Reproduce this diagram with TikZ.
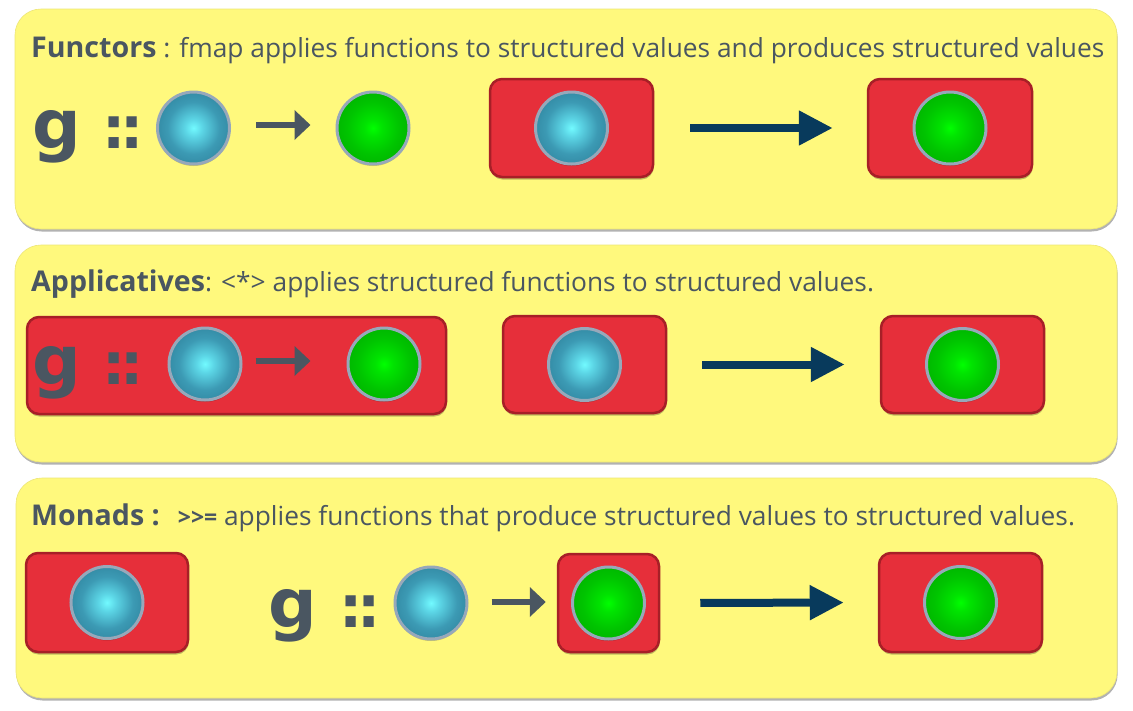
\documentclass[tikz,border=0pt]{standalone}
\usepackage{fontspec}
\setmainfont{Open Sans}
\newfontfamily\gfont{DejaVu Sans}
\usetikzlibrary{arrows.meta,shadows}
\definecolor{panelfill}{HTML}{FFF97D}
\definecolor{paneledge}{HTML}{EDE676}
\definecolor{txt}{HTML}{4A5661}
\definecolor{boxfill}{HTML}{E62F3A}
\definecolor{boxedge}{HTML}{A71F27}
\definecolor{navy}{HTML}{083A5C}
\definecolor{ballrim}{HTML}{97A8BA}
\definecolor{bluein}{HTML}{72FAFF}
\definecolor{bluelight}{HTML}{5CD6E6}
\definecolor{bluemid}{HTML}{3C9AB4}
\definecolor{blueout}{HTML}{2A7A94}
\definecolor{greenin}{HTML}{00FF00}
\definecolor{greenlight}{HTML}{00E400}
\definecolor{greenmid}{HTML}{00C400}
\definecolor{greenout}{HTML}{00A800}
\pgfdeclareradialshading{ballblue}{\pgfpoint{0bp}{0bp}}{color(0bp)=(bluein); color(6bp)=(bluelight); color(18bp)=(bluemid); color(35bp)=(blueout); color(50bp)=(blueout)}
\pgfdeclareradialshading{ballgreen}{\pgfpoint{0bp}{0bp}}{color(0bp)=(greenin); color(6bp)=(greenlight); color(18bp)=(greenmid); color(35bp)=(greenout); color(50bp)=(greenout)}
\tikzset{
  panel/.style={rectangle, fill=panelfill, draw=paneledge, line width=0.6pt,
    rounded corners=26pt, inner sep=0pt,
    drop shadow={shadow xshift=0.6pt, shadow yshift=-2.5pt, opacity=0.3, fill=black}},
  redbox/.style={rectangle, fill=boxfill, draw=boxedge, line width=2.5pt,
    rounded corners=12pt, inner sep=0pt,
    drop shadow={shadow xshift=0.5pt, shadow yshift=-2.5pt, opacity=0.25, fill=black}},
  ball/.style={circle, minimum size=72pt, inner sep=0pt, draw=ballrim, line width=3pt,
    drop shadow={shadow xshift=0pt, shadow yshift=-2pt, opacity=0.2, fill=black}},
  bball/.style={ball, shade, shading=ballblue},
  gball/.style={ball, shade, shading=ballgreen},
  title/.style={anchor=base west, inner sep=0pt, text=txt, font=\fontsize{26.3}{30}\selectfont},
  gletter/.style={anchor=base west, inner sep=0pt, text=txt, font=\gfont\bfseries\fontsize{68}{68}\selectfont},
  dcolon/.style={anchor=base west, inner sep=0pt, text=txt, font=\gfont\bfseries\fontsize{58}{58}\selectfont},
  smallarrow/.style={draw=txt, line width=6.5pt, -{Triangle[length=16pt,width=29pt]}},
  bigarrow/.style={draw=navy, line width=8pt, -{Triangle[length=34pt,width=33pt]}},
}
\newcommand{\hdfont}{\bfseries\fontsize{28.6}{30}\selectfont}
\begin{document}
\begin{tikzpicture}[x=1pt,y=-1pt]
\useasboundingbox (0,0) rectangle (1133,710);
\fill[white] (0,0) rectangle (1133,710);

% ---------- panels
\node[panel, minimum width=1102pt, minimum height=220pt] (p1) at (566,119) {};
\node[panel, minimum width=1102pt, minimum height=217pt] (p2) at (566,353.5) {};
\node[panel, minimum width=1101pt, minimum height=220pt] (p3) at (566.5,588) {};

% ---------- titles
\node[title] (t1) at (31,57) {{\hdfont Functors} : fmap applies functions to structured values and produces structured values};
\node[title] (t2) at (31,291) {{\hdfont Applicatives}: <*> applies structured functions to structured values.};
\node[title] (t3) at (31,525) {{\hdfont Monads :}\ \ \,{\bfseries\fontsize{23}{24}\selectfont >{}>=}\ applies functions that produce structured values to structured values.};

% ---------- Functors
\node[gletter] (g1) at (32,148) {g};
\node[dcolon] (c1) at (102,148) {:\kern-5pt:};
\node[bball] (fb1) at (193.5,128) {};
\node[gball] (fg1) at (373,128) {};
\draw[smallarrow, shorten <=25pt, shorten >=25pt] ([yshift=3pt]fb1.east) -- ([yshift=3pt]fg1.west);
\node[redbox, minimum width=163pt, minimum height=98pt] (fr1) at (571.5,128) {};
\node[bball] (fb2) at (fr1.center) {};
\node[redbox, minimum width=164pt, minimum height=98pt] (fr2) at (950,128) {};
\node[gball] (fg2) at (fr2.center) {};
\draw[bigarrow, shorten <=36pt, shorten >=34pt] (fr1.east) -- (fr2.west);

% ---------- Applicatives
\node[redbox, minimum width=419pt, minimum height=97pt] (ar0) at (236.5,365.5) {};
\node[gletter] (g2) at (32,384) {g};
\node[dcolon] (c2) at (102,384) {:\kern-5pt:};
\node[bball] (ab1) at (205,364) {};
\node[gball] (ag1) at (384,364) {};
\draw[smallarrow, shorten <=13pt, shorten >=36pt] ([yshift=3pt]ab1.east) -- ([yshift=3pt]ag1.west);
\node[redbox, minimum width=163pt, minimum height=97pt] (ar1) at (584.5,364.5) {};
\node[bball] (ab2) at (ar1.center) {};
\node[redbox, minimum width=163pt, minimum height=97pt] (ar2) at (962.5,364.5) {};
\node[gball] (ag2) at (ar2.center) {};
\draw[bigarrow, shorten <=35pt, shorten >=35pt] (ar1.east) -- (ar2.west);

% ---------- Monads
\node[redbox, minimum width=162pt, minimum height=99pt] (mr1) at (107,602.5) {};
\node[bball] (mb1) at (mr1.center) {};
\node[gletter] (g3) at (268,627) {g};
\node[dcolon] (c3) at (339,627) {:\kern-5pt:};
\node[bball] (mb2) at (431,603) {};
\node[redbox, minimum width=101pt, minimum height=98pt] (mr2) at (608.5,603) {};
\node[gball] (mg1) at (mr2.center) {};
\draw[smallarrow, shorten <=23pt, shorten >=11pt] ([yshift=1pt]mb2.east) -- ([yshift=1pt]mr2.west);
\node[redbox, minimum width=163pt, minimum height=99pt] (mr3) at (960.5,602.5) {};
\node[gball] (mg2) at (mr3.center) {};
\draw[bigarrow, shorten <=40pt, shorten >=34pt] (mr2.east) -- (mr3.west);
\end{tikzpicture}
\end{document}
